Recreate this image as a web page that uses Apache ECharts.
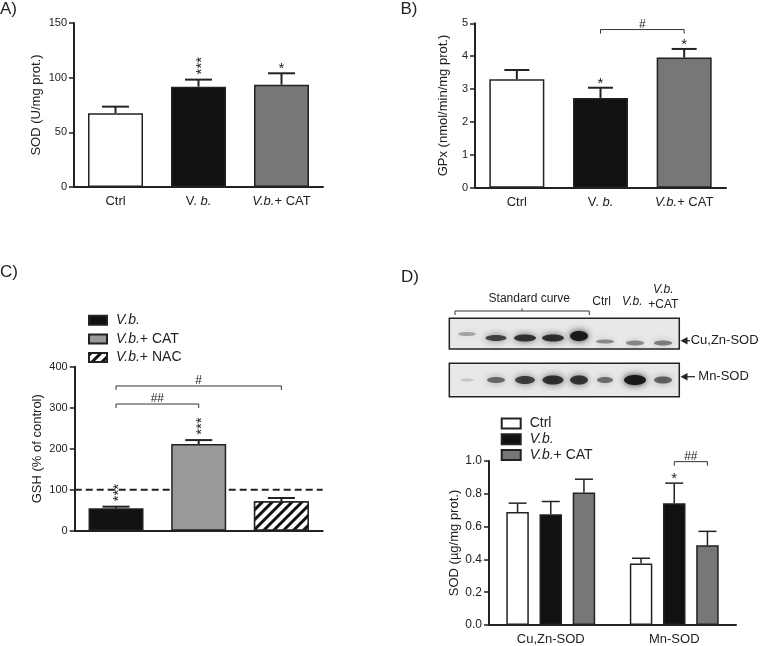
<!DOCTYPE html>
<html><head><meta charset="utf-8">
<script src="https://cdn.jsdelivr.net/npm/echarts@6/dist/echarts.min.js"></script>
<style>html,body{margin:0;padding:0;background:#fff}#c{width:767px;height:646px}</style>
</head><body><div id="c"></div>
<script>
// ---------- DATA ----------
const catsAB = ['Ctrl', 'V. b.', 'V.b.+ CAT'];
const ticksA = [0, 50, 100, 150];
const sodA = [67.5, 91.8, 93.6];
const sodAErr = [6.0, 6.4, 10.4];
const sodAStars = ['', '***', '*'];

const ticksB = [0, 1, 2, 3, 4, 5];
const gpxB = [3.30, 2.73, 3.96];
const gpxBErr = [0.28, 0.31, 0.26];
const gpxBStars = ['', '*', '*'];
const gpxBBrackets = [[1, 2, 4.81, '#']];

const groupsC = ['V.b.', 'V.b.+ CAT', 'V.b.+ NAC'];
const ticksC = [0, 100, 200, 300, 400];
const gshC = [54.6, 211.5, 71.7];
const gshCErr = [4.0, 9.5, 8.0];
const gshCStars = ['***', '***', ''];
const gshCBrackets = [[0, 1, 309, '##'], [0, 2, 353, '#']];
const gshControl = 100;

const catsD = ['Cu,Zn-SOD', 'Mn-SOD'];
const groupsD = ['Ctrl', 'V.b.', 'V.b.+ CAT'];
const ticksD = [0, 0.2, 0.4, 0.6, 0.8, 1.0];
const sodDCtrl = [0.689, 0.375];
const sodDCtrlErr = [0.054, 0.032];
const sodDVb = [0.676, 0.743];
const sodDVbErr = [0.077, 0.122];
const sodDCat = [0.808, 0.486];
const sodDCatErr = [0.081, 0.085];
const sodDStars = [['', ''], ['', '*'], ['', '']];
const sodDBrackets = [[1, 1, 2, 0.996, '##']]; // category, group from, group to, y, label

// blot band intensities (lanes: 5 standards, Ctrl, V.b., V.b.+CAT)
const blotCuZn = [0.3, 0.72, 0.8, 0.82, 0.95, 0.42, 0.42, 0.48];
const blotMn = [0.15, 0.55, 0.72, 0.8, 0.78, 0.52, 0.95, 0.58];

// ---------- STYLE ----------
const FONT = "'Liberation Sans', Arial, Helvetica, sans-serif";
const INK = '#222';
const chart = echarts.init(document.getElementById('c'));

function richCat(name) {
  if (name === 'V. b.') return '{n|V. }{i|b.}';
  if (name.indexOf('V.b.') === 0) return '{i|V.b.}{n|' + name.slice(4) + '}';
  return '{n|' + name + '}';
}
const richStyles = (fs) => ({
  n: {fontSize: fs, color: INK, fontFamily: FONT},
  i: {fontSize: fs, color: INK, fontFamily: FONT, fontStyle: 'italic'}
});

function valAxis(grid, ticks, name, nameGap, fs, digits) {
  return {
    type: 'value', gridIndex: grid, min: ticks[0], max: ticks[ticks.length - 1],
    interval: +(ticks[1] - ticks[0]).toFixed(6),
    name: name, nameLocation: 'middle', nameGap: nameGap,
    nameTextStyle: {fontSize: 13, color: INK, fontFamily: FONT},
    axisLine: {show: true, lineStyle: {color: INK, width: 2}},
    axisTick: {show: true, length: 5, lineStyle: {color: INK, width: 1.5}},
    axisLabel: {fontSize: fs, color: INK, fontFamily: FONT, margin: 7,
      formatter: v => digits ? v.toFixed(digits) : String(v)},
    splitLine: {show: false}
  };
}
function catAxis(grid, cats, showLabels) {
  return {
    type: 'category', gridIndex: grid, data: cats,
    axisLine: {show: true, lineStyle: {color: INK, width: 2}},
    axisTick: {show: false},
    axisLabel: {show: showLabels, interval: 0, hideOverlap: false, margin: 8, formatter: richCat, rich: richStyles(13)}
  };
}

function errSeries(xi, yi, means, errs, capHalf, lw, offset) {
  return {
    type: 'custom', xAxisIndex: xi, yAxisIndex: yi, z: 4, silent: true,
    data: means.map((m, i) => [i, m, errs[i]]),
    encode: {x: 0, y: 1},
    renderItem: (params, api) => {
      const x = api.value(0), m = api.value(1), e = api.value(2);
      const p0 = api.coord([x, m]), p1 = api.coord([x, m + e]);
      const cx = p0[0] + offset;
      return {type: 'group', children: [
        {type: 'line', shape: {x1: cx, y1: p0[1], x2: cx, y2: p1[1]}, style: {stroke: INK, lineWidth: lw}},
        {type: 'line', shape: {x1: cx - capHalf, y1: p1[1], x2: cx + capHalf, y2: p1[1]}, style: {stroke: INK, lineWidth: lw}}
      ]};
    }
  };
}
function starSeries(xi, yi, items) {
  return {
    type: 'custom', xAxisIndex: xi, yAxisIndex: yi, z: 5, silent: true,
    data: items.map(it => [it.x, it.y]),
    encode: {x: 0, y: 1},
    renderItem: (params, api) => {
      const it = items[params.dataIndex];
      const p = api.coord([it.x, it.y]);
      const cx = p[0] + (it.off || 0);
      if (it.text.length > 1) {
        return {type: 'text', x: cx + 3, y: p[1] - 14, rotation: Math.PI / 2,
          style: {text: it.text, fontSize: 15, fill: INK, fontFamily: FONT, align: 'center', verticalAlign: 'middle'}};
      }
      return {type: 'text', x: cx, y: p[1] - 4,
        style: {text: it.text, fontSize: 15, fill: INK, fontFamily: FONT, align: 'center', verticalAlign: 'middle'}};
    }
  };
}
function bracketSeries(xi, yi, items) {
  return {
    type: 'custom', xAxisIndex: xi, yAxisIndex: yi, z: 5, silent: true,
    data: items.map(it => [it.x1, it.y]),
    encode: {x: 0, y: 1},
    renderItem: (params, api) => {
      const it = items[params.dataIndex];
      const a = api.coord([it.x1, it.y]), b = api.coord([it.x2, it.y]);
      const x1 = a[0] + (it.off1 || 0), x2 = b[0] + (it.off2 || 0), y = a[1];
      const st = {stroke: '#333', lineWidth: 1};
      return {type: 'group', children: [
        {type: 'polyline', shape: {points: [[x1, y + 4], [x1, y], [x2, y], [x2, y + 4]]}, style: Object.assign({fill: null}, st)},
        {type: 'text', x: (x1 + x2) / 2, y: y - 5, style: {text: it.text, fontSize: 12, fill: INK, fontFamily: FONT, align: 'center', verticalAlign: 'middle'}}
      ]};
    }
  };
}
function starsFrom(means, errs, stars, off) {
  const out = [];
  stars.forEach((s, i) => { if (s) out.push({x: i, y: means[i] + errs[i], text: s, off: off || 0}); });
  return out;
}

const colorsAB = ['#ffffff', '#111111', '#777777'];
const barBorder = {borderColor: INK, borderWidth: 1.5};

// C series
const colorsC = ['#111111', '#999999', '#ffffff'];
const hatch = {symbol: 'rect', symbolSize: 1, dashArrayX: [1, 0], dashArrayY: [3, 3.6], rotation: -Math.PI / 4, color: '#111', backgroundColor: '#fff'};
const seriesC = groupsC.map((g, gi) => ({
  name: 'C|' + g, type: 'bar', xAxisIndex: 2, yAxisIndex: 2, barWidth: 55, barGap: '-100%', z: 3,
  itemStyle: Object.assign({color: colorsC[gi], decal: gi === 2 ? hatch : null}, barBorder),
  data: gshC.map((v, i) => i === gi ? v : '-')
}));

// D series
const colorsD = ['#ffffff', '#111111', '#777777'];
const dMeans = [sodDCtrl, sodDVb, sodDCat];
const dErrs = [sodDCtrlErr, sodDVbErr, sodDCatErr];
const dBarW = 22.5, dGap = 0.475;
const dStep = dBarW * (1 + dGap);
const seriesD = groupsD.map((g, gi) => ({
  name: 'D|' + g, type: 'bar', xAxisIndex: 4, yAxisIndex: 3, barWidth: dBarW, barGap: (dGap * 100) + '%', z: 3,
  itemStyle: Object.assign({color: colorsD[gi]}, barBorder),
  data: dMeans[gi]
}));
const errD = groupsD.map((g, gi) => errSeries(4, 3, dMeans[gi], dErrs[gi], 9, 1.5, (gi - 1) * dStep));
const starsD = [];
groupsD.forEach((g, gi) => sodDStars[gi].forEach((s, ci) => {
  if (s) starsD.push({x: ci, y: dMeans[gi][ci] + dErrs[gi][ci], text: s, off: (gi - 1) * dStep});
}));

function legendFmt(name) {
  const s = name.split('|')[1];
  return s.indexOf('V.b.') === 0 ? '{i|V.b.}{n|' + s.slice(4) + '}' : '{n|' + s + '}';
}
function legendCfg(left, top, names, iw, ih, lh) {
  return {
    left: left, top: top, orient: 'vertical', padding: 0, itemGap: 0, itemWidth: iw, itemHeight: ih,
    selectedMode: false, icon: 'rect', data: names, formatter: legendFmt,
    textStyle: {fontSize: 14, color: INK, fontFamily: FONT, lineHeight: lh, padding: [0, 0, 0, 4],
      rich: {n: {fontSize: 14, color: INK, fontFamily: FONT, lineHeight: lh},
             i: {fontSize: 14, color: INK, fontFamily: FONT, lineHeight: lh, fontStyle: 'italic'}}}
  };
}

// ---------- BLOT GRAPHIC ----------
const blotX = 449.3, blotW = 230;
const laneX = [467, 496, 525, 553, 579, 605, 635, 663];
const cuY = [334, 338, 338, 338, 336, 341.5, 343, 343];
const cuRx = [9, 10.5, 11, 11, 9, 9, 9, 9];
const cuRy = [2, 3, 3.5, 3.5, 5, 2, 2.5, 2.5];
const mnRx = [7, 9, 10, 10.5, 9, 8, 11, 9];
const mnRy = [1.5, 3, 4, 4.5, 4.5, 3, 5, 3.5];
const blotEls = [];
blotEls.push({type: 'rect', shape: {x: blotX, y: 318.3, width: blotW, height: 30.7}, style: {fill: '#e8e8e8', stroke: INK, lineWidth: 1.5}});
blotEls.push({type: 'rect', shape: {x: blotX, y: 363.3, width: blotW, height: 33.4}, style: {fill: '#e8e8e8', stroke: INK, lineWidth: 1.5}});
laneX.forEach((x, i) => {
  const a1 = blotCuZn[i], a2 = blotMn[i];
  blotEls.push({type: 'ellipse', shape: {cx: x, cy: cuY[i], rx: cuRx[i], ry: cuRy[i]},
    style: {fill: 'rgba(20,20,20,' + a1 + ')', shadowBlur: 7, shadowColor: 'rgba(20,20,20,' + a1 + ')'}});
  blotEls.push({type: 'ellipse', shape: {cx: x, cy: 380, rx: mnRx[i], ry: mnRy[i]},
    style: {fill: 'rgba(20,20,20,' + a2 + ')', shadowBlur: 7, shadowColor: 'rgba(20,20,20,' + a2 + ')'}});
});
const txt = (x, y, t, fs, extra) => ({type: 'text', x: x, y: y,
  style: Object.assign({text: t, fontSize: fs, fill: INK, fontFamily: FONT, align: 'center', verticalAlign: 'middle'}, extra || {})});
blotEls.push(txt(529.3, 298.5, 'Standard curve', 12));
blotEls.push({type: 'polyline', shape: {points: [[455, 315], [455, 311], [589.3, 311], [589.3, 315]]}, style: {fill: null, stroke: '#333', lineWidth: 1}});
blotEls.push({type: 'line', shape: {x1: 522, y1: 311, x2: 522, y2: 308.5}, style: {stroke: '#333', lineWidth: 1}});
blotEls.push(txt(601.7, 302, 'Ctrl', 12));
blotEls.push(txt(632.3, 302, 'V.b.', 12, {fontStyle: 'italic'}));
blotEls.push(txt(663.3, 290, 'V.b.', 12, {fontStyle: 'italic'}));
blotEls.push(txt(663.3, 305, '+CAT', 12));
// arrows
[[340.7, 690, 690.7, 'Cu,Zn-SOD'], [376.7, 695, 698.3, 'Mn-SOD']].forEach(a => {
  blotEls.push({type: 'polygon', shape: {points: [[680.5, a[0]], [687.5, a[0] - 3.8], [687.5, a[0] + 3.8]]}, style: {fill: INK}});
  blotEls.push({type: 'line', shape: {x1: 687, y1: a[0], x2: a[1], y2: a[0]}, style: {stroke: INK, lineWidth: 1.2}});
  blotEls.push(txt(a[2], a[0], a[3], 13, {align: 'left'}));
});
// panel letters
[['A)', 0, 1], ['B)', 400.5, 1], ['C)', 0, 264], ['D)', 401, 269]].forEach(l => {
  blotEls.push({type: 'text', x: l[1], y: l[2], style: {text: l[0], fontSize: 17, fill: INK, fontFamily: FONT, align: 'left', verticalAlign: 'top'}});
});

const option = {
  animation: false,
  backgroundColor: '#fff',
  textStyle: {fontFamily: FONT},
  grid: [
    {left: 74, top: 23, width: 249, height: 164},
    {left: 475, top: 23.3, width: 251, height: 164.4},
    {left: 74.7, top: 366.7, width: 248, height: 164},
    {left: 489, top: 461, width: 247, height: 164.7}
  ],
  xAxis: [
    catAxis(0, catsAB, true),
    catAxis(1, catsAB, true),
    catAxis(2, groupsC, false),
    {type: 'value', gridIndex: 2, min: 0, max: 1, show: false},
    catAxis(3, catsD, true)
  ],
  yAxis: [
    valAxis(0, ticksA, 'SOD (U/mg prot.)', 31, 11, 0),
    valAxis(1, ticksB, 'GPx (nmol/min/mg prot.)', 25, 11, 0),
    valAxis(2, ticksC, 'GSH (% of control)', 31, 11, 0),
    valAxis(3, ticksD, 'SOD (\u00b5g/mg prot.)', 28, 12, 1)
  ],
  legend: [
    legendCfg(88, 311, groupsC.map(g => 'C|' + g), 18, 9, 18.6),
    legendCfg(500.7, 415.5, groupsD.map(g => 'D|' + g), 19, 10, 15.8)
  ],
  graphic: {elements: blotEls},
  series: [
    {type: 'bar', xAxisIndex: 0, yAxisIndex: 0, barWidth: 55, z: 3,
      data: sodA.map((v, i) => ({value: v, itemStyle: Object.assign({color: colorsAB[i]}, barBorder)}))},
    errSeries(0, 0, sodA, sodAErr, 13.5, 2, 0),
    starSeries(0, 0, starsFrom(sodA, sodAErr, sodAStars)),

    {type: 'bar', xAxisIndex: 1, yAxisIndex: 1, barWidth: 55, z: 3,
      data: gpxB.map((v, i) => ({value: v, itemStyle: Object.assign({color: colorsAB[i]}, barBorder)}))},
    errSeries(1, 1, gpxB, gpxBErr, 12.5, 2, 0),
    starSeries(1, 1, starsFrom(gpxB, gpxBErr, gpxBStars)),
    bracketSeries(1, 1, gpxBBrackets.map(b => ({x1: b[0], x2: b[1], y: b[2], text: b[3]}))),

    {type: 'line', xAxisIndex: 3, yAxisIndex: 2, z: 1, symbol: 'none', silent: true,
      data: [[0, gshControl], [1, gshControl]],
      lineStyle: {color: INK, width: 2, type: [7, 4]}},
    ...seriesC,
    errSeries(2, 2, gshC, gshCErr, 13.5, 2, 0),
    starSeries(2, 2, starsFrom(gshC, gshCErr, gshCStars)),
    bracketSeries(2, 2, gshCBrackets.map(b => ({x1: b[0], x2: b[1], y: b[2], text: b[3]}))),

    ...seriesD,
    ...errD,
    starSeries(4, 3, starsD),
    bracketSeries(4, 3, sodDBrackets.map(b => ({x1: b[0], x2: b[0], off1: (b[1] - 1) * dStep, off2: (b[2] - 1) * dStep, y: b[3], text: b[4]})))
  ]
};
chart.setOption(option);
</script></body></html>
